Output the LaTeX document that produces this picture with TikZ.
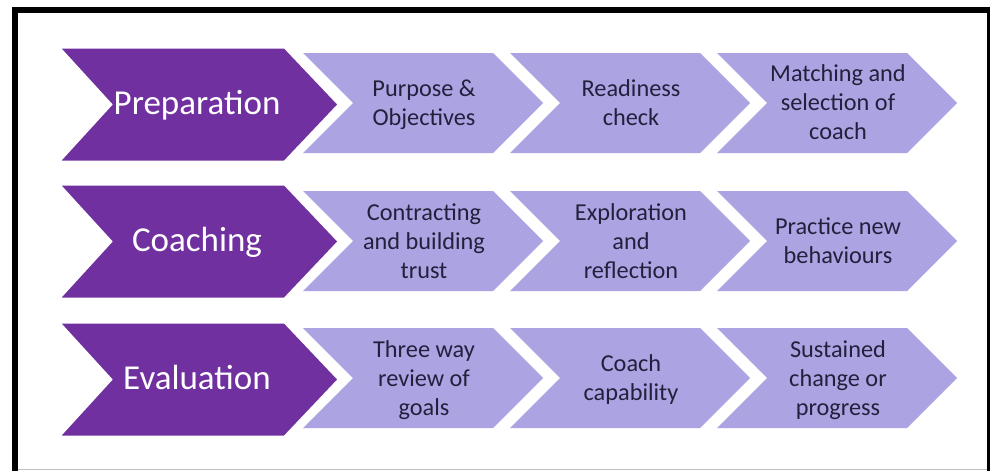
\documentclass[tikz,border=0pt]{standalone}
\usepackage{fontspec}
\setmainfont{Carlito}

\definecolor{phasefill}{RGB}{112,48,160}
\definecolor{stepfill}{RGB}{172,164,226}
\definecolor{steptext}{RGB}{34,32,60}

\tikzset{
  phasebox/.style={fill=phasefill, draw=white, line width=4pt, line join=miter},
  stepbox/.style={fill=stepfill},
  phaselabel/.style={text=white, inner sep=0pt, anchor=base,
    font=\fontsize{35}{40}\selectfont},
  steplabel/.style={text=steptext, inner sep=0pt, align=center,
    font=\fontsize{24.3}{29}\selectfont,
    execute at begin node=\strut, execute at end node=\strut},
}

% light step chevron: left edge x, centre y
\newcommand\stepchev[2]{%
  \path[stepbox] (#1,#2-50) -- ++(190,0) -- ++(50,50) -- ++(-50,50)
    -- ++(-190,0) -- ++(50,-50) -- cycle;}
% purple phase chevron: centre y
\newcommand\phasechev[1]{%
  \path[phasebox] (57,#1-58) -- (285,#1-58) -- (340,#1) -- (285,#1+58)
    -- (57,#1+58) -- (110,#1) -- cycle;}

\begin{document}
\begin{tikzpicture}[x=1pt,y=-1pt]
  \useasboundingbox (0,0) rectangle (990,471);
  \fill[white] (0,0) rectangle (990,471);

  % frame
  \fill[black] (12,7) rectangle (18,471);
  \fill[black] (12,7) rectangle (990,13);
  \fill[black] (986.5,7) rectangle (990,471);
  \draw[black!25, line width=1pt] (18,469) -- (986.5,469);

  % step chevrons
  \foreach \cy in {103,241,378}{
    \foreach \k in {0,1,2}{
      \stepchev{303+207*\k}{\cy}
    }
  }

  % phase chevrons
  \phasechev{104.5}
  \phasechev{241.5}
  \phasechev{379.5}

  % phase labels
  \node[phaselabel] (prep) at (197,114) {Preparation};
  \node[phaselabel] (coach) at (197,251) {Coaching};
  \node[phaselabel] (eval) at (197,389) {Evaluation};

  % step labels, row 1
  \node[steplabel] (p1) at (424,107) {Purpose \&\\Objectives};
  \node[steplabel] (p2) at (631,107) {Readiness\\check};
  \node[steplabel] (p3) at (838,106) {Matching and\\selection of\\coach};

  % step labels, row 2
  \node[steplabel] (c1) at (424,245) {Contracting\\and building\\trust};
  \node[steplabel] (c2) at (631,245) {Exploration\\and\\reflection};
  \node[steplabel] (c3) at (838,245) {Practice new\\behaviours};

  % step labels, row 3
  \node[steplabel] (e1) at (424,382) {Three way\\review of\\goals};
  \node[steplabel] (e2) at (631,382) {Coach\\capability};
  \node[steplabel] (e3) at (838,382) {Sustained\\change or\\progress};
\end{tikzpicture}
\end{document}
